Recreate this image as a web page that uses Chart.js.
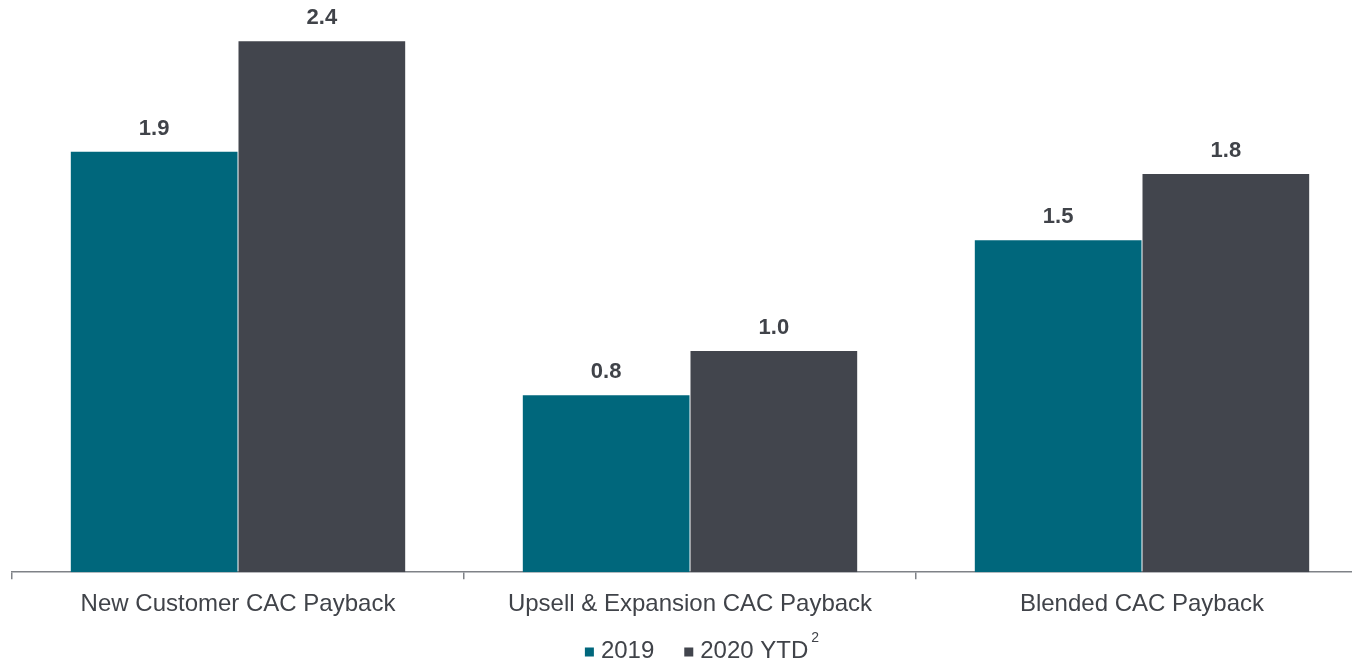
<!DOCTYPE html>
<html>
<head>
<meta charset="utf-8">
<script src="https://cdn.jsdelivr.net/npm/chart.js@4/dist/chart.umd.min.js"></script>
<style>
  html, body { margin: 0; padding: 0; background: #fff; overflow: hidden; }
  #wrap { width: 1380px; height: 662px; }
</style>
</head>
<body>
<div id="wrap"><canvas id="paybackChart"></canvas></div>
<script>
const categories = ['New Customer CAC Payback', 'Upsell & Expansion CAC Payback', 'Blended CAC Payback'];
const payback2019 = [1.9, 0.8, 1.5];
const payback2020 = [2.4, 1.0, 1.8];
const seriesNames = ['2019', '2020 YTD'];
const seriesNotes = ['', '2'];

const TEXT = '#404349';
const FONT = "'Liberation Sans', Arial, sans-serif";

// value labels above each bar
const barValues = {
    id: 'barValues',
    afterDatasetsDraw(chart) {
        const ctx = chart.ctx;
        ctx.save();
        ctx.font = 'bold 22px ' + FONT;
        ctx.fillStyle = TEXT;
        ctx.textAlign = 'center';
        ctx.textBaseline = 'bottom';
        chart.data.datasets.forEach((ds, i) => {
            chart.getDatasetMeta(i).data.forEach((bar, j) => {
                ctx.fillText(ds.data[j].toFixed(1), bar.x, bar.y - 12);
            });
        });
        ctx.restore();
    }
};

// legend row under the axis, with a footnote mark on the second series
const noteLegend = {
    id: 'noteLegend',
    afterDraw(chart) {
        const ctx = chart.ctx;
        const box = 9, boxGap = 7, itemGap = 30;
        const y = 651;
        ctx.save();
        ctx.textBaseline = 'middle';
        ctx.textAlign = 'left';
        const items = chart.data.datasets.map((ds, i) => {
            ctx.font = '24px ' + FONT;
            const w = ctx.measureText(ds.label).width;
            ctx.font = '14px ' + FONT;
            const nw = seriesNotes[i] ? ctx.measureText(seriesNotes[i]).width + 3 : 0;
            return { ds, w, nw, note: seriesNotes[i] };
        });
        let total = items.reduce((s, it) => s + box + boxGap + it.w + it.nw, 0) + itemGap * (items.length - 1);
        let x = 702 - total / 2;
        items.forEach(it => {
            ctx.fillStyle = it.ds.backgroundColor;
            ctx.fillRect(x, y - box / 2 + 1, box, box);
            x += box + boxGap;
            ctx.fillStyle = TEXT;
            ctx.font = '24px ' + FONT;
            ctx.fillText(it.ds.label, x, y);
            x += it.w;
            if (it.note) {
                ctx.font = '14px ' + FONT;
                ctx.fillText(it.note, x + 3, y - 13);
                x += it.nw;
            }
            x += itemGap;
        });
        ctx.restore();
    }
};

new Chart(document.getElementById('paybackChart'), {
    type: 'bar',
    data: {
        labels: categories,
        datasets: [{
            label: seriesNames[0],
            data: payback2019,
            backgroundColor: '#00677c',
            categoryPercentage: 0.742,
            barPercentage: 0.994
        }, {
            label: seriesNames[1],
            data: payback2020,
            backgroundColor: '#42454d',
            categoryPercentage: 0.742,
            barPercentage: 0.994
        }]
    },
    options: {
        responsive: true,
        maintainAspectRatio: false,
        animation: false,
        layout: { padding: { left: 12, right: 12, top: 19, bottom: 32 } },
        plugins: {
            legend: { display: false },
            tooltip: { enabled: false }
        },
        scales: {
            x: {
                grid: { drawOnChartArea: false, drawTicks: true, tickLength: 7, color: '#7f8287', lineWidth: 1.5 },
                border: { color: '#7f8287', width: 1.5 },
                ticks: { color: TEXT, padding: 11, font: { family: FONT, size: 24 } }
            },
            y: {
                display: false,
                min: 0,
                max: 2.5
            }
        }
    },
    plugins: [barValues, noteLegend]
});
</script>
</body>
</html>
